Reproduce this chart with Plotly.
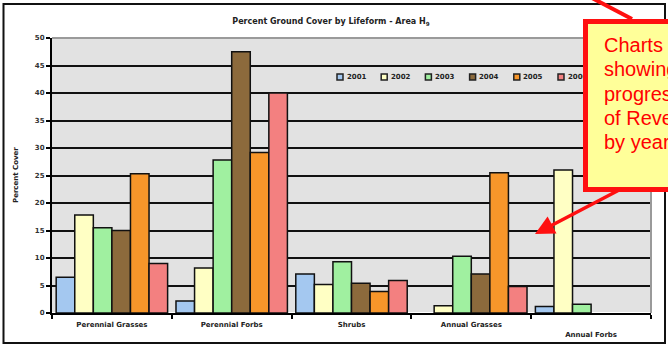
import plotly.graph_objects as go

categories = ["Perennial Grasses", "Perennial Forbs", "Shrubs", "Annual Grasses", "Annual Forbs"]
tick_labels = ["Perennial Grasses", "Perennial Forbs", "Shrubs", "Annual Grasses", "<br>Annual Forbs"]
years = ["2001", "2002", "2003", "2004", "2005", "2006"]
v2001 = [6.5, 2.2, 7.1, None, 1.2]
v2002 = [17.8, 8.2, 5.2, 1.3, 26.0]
v2003 = [15.5, 27.8, 9.3, 10.3, 1.6]
v2004 = [15.0, 47.5, 5.4, 7.1, None]
v2005 = [25.3, 29.2, 3.9, 25.5, None]
v2006 = [9.0, 40.0, 5.9, 4.8, None]
series = [v2001, v2002, v2003, v2004, v2005, v2006]
colors = ["#A4C8F0", "#FFFFC4", "#A0F0A0", "#8C6A3C", "#F7962A", "#F38080"]
y_ticks = [0, 5, 10, 15, 20, 25, 30, 35, 40, 45, 50]
callout_lines = ["Charts", "showing", "progress", "of Revegetation", "by year"]

W, H = 668, 347
L, R, T, B = 52, 651, 38, 313


def px(x):
    return (x - L) / (R - L)


def py(y):
    return (B - y) / (B - T)


fig = go.Figure()
for yr, vals, c in zip(years, series, colors):
    fig.add_trace(go.Bar(
        x=categories, y=vals, name=yr,
        marker=dict(color=c, line=dict(color="#111111", width=1.5)),
    ))

font_main = "DejaVu Sans"
fig.update_layout(
    width=W, height=H,
    margin=dict(l=L, r=W - R, t=T, b=H - B),
    paper_bgcolor="white",
    plot_bgcolor="#E2E2E2",
    barmode="group", bargap=0.07, bargroupgap=0,
    showlegend=False,
    title=dict(text="<b>Percent Ground Cover by Lifeform - Area H<sub>9</sub></b>",
               x=331 / W, xref="container", xanchor="center",
               y=1 - 21.5 / H, yref="container", yanchor="middle",
               font=dict(family=font_main, size=8, color="#222222")),
    xaxis=dict(
        tickmode="array", tickvals=categories, ticktext=[f"<b>{t}</b>" for t in tick_labels],
        tickson="boundaries", ticks="outside", ticklen=4, tickcolor="black", tickwidth=1.5,
        ticklabelstandoff=4, automargin=False,
        showline=True, linecolor="black", linewidth=2,
        showgrid=False,
        tickfont=dict(family=font_main, size=7, color="#222222"),
    ),
    yaxis=dict(
        range=[0, 50], tickvals=y_ticks, ticktext=[f"<b>{v}</b>" for v in y_ticks],
        ticks="outside", ticklen=4, tickcolor="black", tickwidth=1.5,
        automargin=False,
        showline=True, linecolor="black", linewidth=2,
        showgrid=True, gridcolor="#111111", gridwidth=2,
        tickfont=dict(family=font_main, size=7, color="#333333"),
    ),
)

shapes = []
# outer chart frame
shapes.append(dict(type="rect", xref="paper", yref="paper",
                   x0=px(3.5), x1=px(665), y0=py(4), y1=py(343),
                   line=dict(color="#111111", width=2), fillcolor="rgba(0,0,0,0)"))
# gray top/right plot border
shapes.append(dict(type="line", xref="paper", yref="paper",
                   x0=0, x1=1, y0=1, y1=1, line=dict(color="#9A9A9A", width=2)))
shapes.append(dict(type="line", xref="paper", yref="paper",
                   x0=1, x1=1, y0=0, y1=1, line=dict(color="#9A9A9A", width=2)))
# red line from top edge into callout
shapes.append(dict(type="line", xref="paper", yref="paper",
                   x0=px(592), y0=py(-2), x1=px(632), y1=py(19),
                   line=dict(color="#FF1010", width=4)))

annotations = []
# legend
lx0 = 337
for i, (yr, c) in enumerate(zip(years, colors)):
    x = lx0 + i * 44.2
    shapes.append(dict(type="rect", xref="paper", yref="paper",
                       x0=px(x), x1=px(x + 6), y0=py(74), y1=py(80),
                       line=dict(color="#222222", width=1.5), fillcolor=c))
    annotations.append(dict(xref="paper", yref="paper", x=px(x + 7.5), y=py(77),
                            xanchor="left", yanchor="middle", showarrow=False,
                            text=f"<b>{yr}</b>",
                            font=dict(family=font_main, size=7, color="#222222")))

# y axis title
annotations.append(dict(xref="paper", yref="paper", x=px(16), y=py(175),
                        xanchor="center", yanchor="middle", showarrow=False,
                        textangle=-90, text="<b>Percent Cover</b>",
                        font=dict(family=font_main, size=7, color="#222222")))

# callout box
annotations.append(dict(xref="paper", yref="paper", x=px(582.5), y=py(19.5),
                        xanchor="left", yanchor="top", showarrow=False,
                        text=" ", width=120, height=163, borderpad=0,
                        bgcolor="#FFFF99", bordercolor="#FF1010", borderwidth=5))
for i, line in enumerate(callout_lines):
    annotations.append(dict(xref="paper", yref="paper", x=px(602), y=py(45 + i * 24.3),
                            xanchor="left", yanchor="middle", showarrow=False,
                            text=line,
                            font=dict(family="Liberation Sans, Arial", size=20, color="#FF0000")))
# arrow
annotations.append(dict(xref="paper", yref="paper", x=px(535), y=py(234),
                        ax=88, ay=-46, text="", showarrow=True,
                        arrowhead=2, arrowsize=1.1, arrowwidth=3.5, arrowcolor="#FF1010"))

fig.update_layout(shapes=shapes, annotations=annotations)
fig.write_html("out.html")
